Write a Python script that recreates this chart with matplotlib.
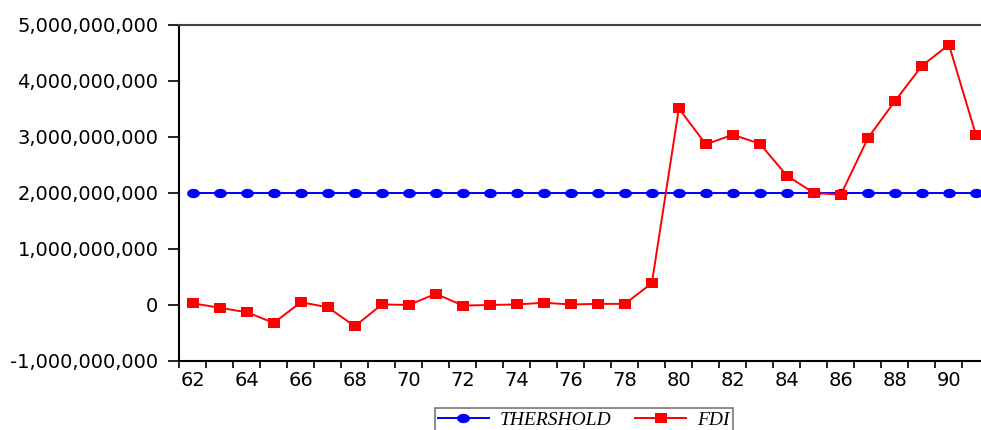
import numpy as np
import matplotlib
matplotlib.use("Agg")
import matplotlib.pyplot as plt
from matplotlib.path import Path
from matplotlib.ticker import FuncFormatter, FixedLocator

# years 1962-1991, shown as two-digit labels
years = list(range(62, 92))
threshold = [2.0e9, 2.0e9, 2.0e9, 2.0e9, 2.0e9, 2.0e9, 2.0e9, 2.0e9, 2.0e9, 2.0e9,
             2.0e9, 2.0e9, 2.0e9, 2.0e9, 2.0e9, 2.0e9, 2.0e9, 2.0e9, 2.0e9, 2.0e9,
             2.0e9, 2.0e9, 2.0e9, 2.0e9, 2.0e9, 2.0e9, 2.0e9, 2.0e9, 2.0e9, 2.0e9]
fdi = [0.03e9, -0.05e9, -0.13e9, -0.32e9, 0.05e9, -0.04e9, -0.38e9, 0.01e9, 0.00e9, 0.20e9,
       -0.01e9, 0.00e9, 0.01e9, 0.04e9, 0.01e9, 0.02e9, 0.02e9, 0.39e9, 3.51e9, 2.87e9,
       3.04e9, 2.88e9, 2.31e9, 2.00e9, 1.97e9, 2.98e9, 3.64e9, 4.27e9, 4.65e9, 3.04e9]
year_labels = [62, 64, 66, 68, 70, 72, 74, 76, 78, 80, 82, 84, 86, 88, 90]
y_ticks = [-1e9, 0, 1e9, 2e9, 3e9, 4e9, 5e9]

# the source picture is stretched sideways, so use wide markers
t = np.linspace(0, 2 * np.pi, 40)
ellipse = Path(np.column_stack([1.37 * np.cos(t), np.sin(t)]), closed=True)
rect = Path([(-1.33, -1), (1.33, -1), (1.33, 1), (-1.33, 1), (-1.33, -1)], closed=True)

fig = plt.figure(figsize=(9.81, 4.30), dpi=100)
ax = fig.add_axes([179.3 / 981, 69 / 430, (989.4 - 179.3) / 981, 336 / 430])

ax.plot(years, threshold, color="#0000ff", lw=1.4, marker=ellipse, ms=9.2,
        mec="#0000ff", mfc="#0000ff", mew=0, label="THERSHOLD", zorder=3)
ax.plot(years, fdi, color="#ff0000", lw=1.4, marker=rect, ms=8.8,
        mec="#ff0000", mfc="#ff0000", mew=0, label="FDI", zorder=4)

ax.set_xlim(61.5, 91.5)
ax.set_ylim(-1e9, 5e9)

# ticks between years, labels centred on years
ax.xaxis.set_major_locator(FixedLocator(np.arange(61.5, 92, 1.0)))
ax.xaxis.set_major_formatter(FuncFormatter(lambda v, p: ""))
ax.xaxis.set_minor_locator(FixedLocator(year_labels))
ax.xaxis.set_minor_formatter(FuncFormatter(lambda v, p: "%d" % v))
ax.tick_params(axis="x", which="major", direction="out", length=5, width=1.2, color="black")
ax.tick_params(axis="x", which="minor", length=0, pad=7, labelsize=14)

ax.set_yticks(y_ticks)
ax.yaxis.set_major_formatter(FuncFormatter(lambda v, p: "{:,.0f}".format(v)))
ax.tick_params(axis="y", direction="out", length=8, width=1.2, pad=7, labelsize=14)
ax.yaxis.get_major_ticks()[1].tick1line.set_color("#999999")

for lab in ax.get_xticklabels(minor=True) + ax.get_yticklabels():
    lab.set_family("DejaVu Sans")

ax.spines["left"].set_linewidth(1.5)
ax.spines["bottom"].set_linewidth(1.5)
ax.spines["top"].set_color("#444444")
ax.spines["top"].set_linewidth(1.5)
ax.spines["right"].set_visible(False)

leg = fig.legend(loc="upper center", bbox_to_anchor=(584 / 981, 1 - 408 / 430), ncol=2,
                 prop={"family": "Liberation Serif", "style": "italic", "size": 14},
                 handlelength=2.6, handletextpad=0.6, columnspacing=1.2,
                 borderpad=0.15, borderaxespad=0, fancybox=False,
                 edgecolor="#777777", framealpha=1)
leg.get_frame().set_linewidth(1.2)

fig.savefig("out.png", dpi=100)
